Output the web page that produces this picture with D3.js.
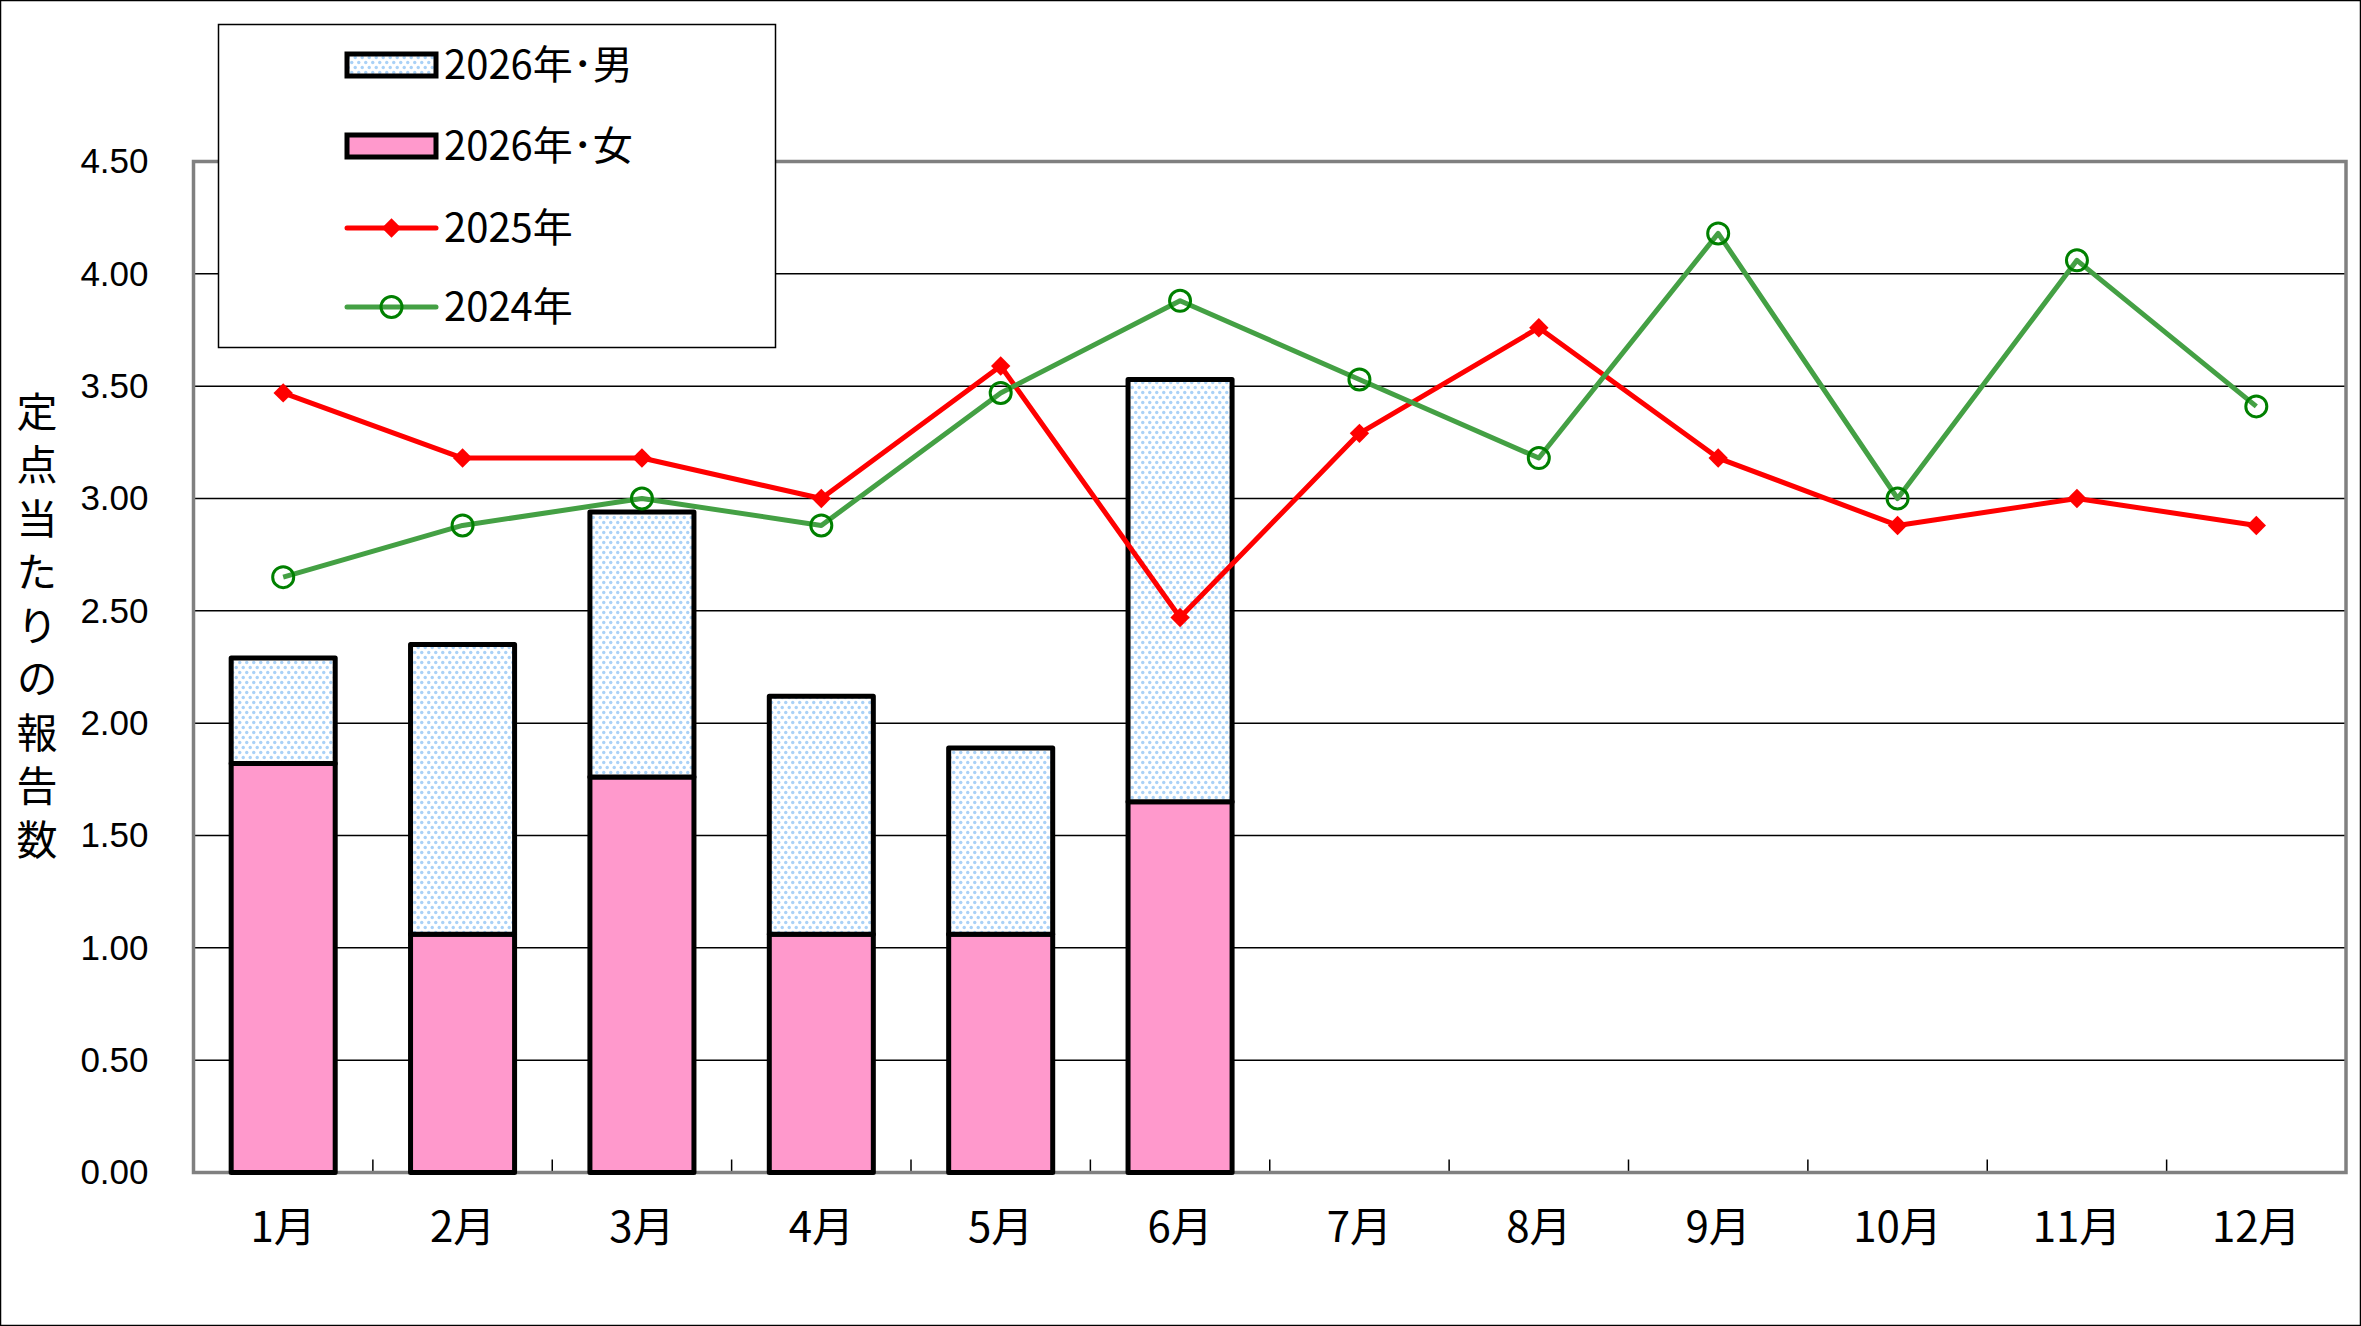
<!DOCTYPE html>
<html>
<head>
<meta charset="utf-8">
<script src="https://cdn.jsdelivr.net/npm/d3@7"></script>
<style>
html,body{margin:0;padding:0;background:#fff;}
svg{display:block;}
</style>
</head>
<body>
<svg id="chart" width="2361" height="1326"></svg>
<script>
const months = ["1月","2月","3月","4月","5月","6月","7月","8月","9月","10月","11月","12月"];
const female2026 = [1.82, 1.06, 1.76, 1.06, 1.06, 1.65];
const male2026   = [0.47, 1.29, 1.18, 1.06, 0.83, 1.88];
const y2025 = [3.47, 3.18, 3.18, 3.00, 3.59, 2.47, 3.29, 3.76, 3.18, 2.88, 3.00, 2.88];
const y2024 = [2.65, 2.88, 3.00, 2.88, 3.47, 3.88, 3.53, 3.18, 4.18, 3.00, 4.06, 3.41];
const yTicks = [0, 0.5, 1, 1.5, 2, 2.5, 3, 3.5, 4, 4.5];
const legendLabels = ["2026年･男", "2026年･女", "2025年", "2024年"];
const yTitle = "定点当たりの報告数";

const svg = d3.select("#chart");
const W = 2361, H = 1326;
const plot = {left: 193.5, right: 2346, top: 161.5, bottom: 1172.5};
const JP = "'Noto Sans CJK JP', 'Noto Sans', sans-serif";

const defs = svg.append("defs");
const pat = defs.append("pattern").attr("id","dots").attr("patternUnits","userSpaceOnUse")
  .attr("width",7).attr("height",10);
pat.append("rect").attr("width",7).attr("height",10).attr("fill","#ffffff");
pat.append("circle").attr("cx",1.75).attr("cy",2.5).attr("r",1.7).attr("fill","#a9d1f7");
pat.append("circle").attr("cx",5.25).attr("cy",7.5).attr("r",1.7).attr("fill","#a9d1f7");

svg.append("rect").attr("x",0.5).attr("y",0.5).attr("width",W-1).attr("height",H-1)
  .attr("fill","#fff").attr("stroke","#000").attr("stroke-width",1.5);

const x = d3.scaleBand().domain(months).range([plot.left, plot.right]).padding(0);
const y = d3.scaleLinear().domain([0, 4.5]).range([plot.bottom, plot.top]);

// gridlines
svg.append("g").selectAll("line").data(yTicks.filter(t => t > 0 && t < 4.5)).join("line")
  .attr("x1", plot.left).attr("x2", plot.right)
  .attr("y1", d => y(d)).attr("y2", d => y(d))
  .attr("stroke","#000").attr("stroke-width",1.5);

// x tick marks (inside)
svg.append("g").selectAll("line").data(months.slice(1)).join("line")
  .attr("x1", d => x(d)).attr("x2", d => x(d))
  .attr("y1", plot.bottom).attr("y2", plot.bottom - 13)
  .attr("stroke","#000").attr("stroke-width",1.5);

// y axis labels
const yAxis = d3.axisLeft(y).tickValues(yTicks).tickFormat(d3.format(".2f")).tickSize(0).tickPadding(45);
const ya = svg.append("g").attr("transform",`translate(${plot.left},0)`).call(yAxis);
ya.select(".domain").remove();
ya.selectAll("text").attr("font-family","'Liberation Sans', Arial, sans-serif")
  .attr("font-size",35).attr("fill","#000");

// x axis labels
const xAxis = d3.axisBottom(x).tickSize(0).tickPadding(40);
const xa = svg.append("g").attr("transform",`translate(0,${plot.bottom})`).call(xAxis);
xa.select(".domain").remove();
xa.selectAll("text").attr("font-family",JP).attr("font-size",42).attr("fill","#000");

// plot frame
svg.append("rect").attr("x",plot.left).attr("y",plot.top)
  .attr("width",plot.right-plot.left).attr("height",plot.bottom-plot.top)
  .attr("fill","none").attr("stroke","#808080").attr("stroke-width",3.5);

// y title (vertical writing, single text)
svg.append("text")
  .attr("x", 37).attr("y", 390.5)
  .attr("writing-mode","vertical-rl")
  .style("writing-mode","vertical-rl")
  .style("text-orientation","upright")
  .attr("letter-spacing", 12.5)
  .attr("font-family",JP).attr("font-size",41).attr("fill","#000")
  .text(yTitle);

// bars
const bw = x.bandwidth()*0.58;
const bars = svg.append("g");
bars.selectAll("rect.f").data(female2026).join("rect").attr("class","f")
  .attr("x",(d,i)=> x(months[i]) + (x.bandwidth()-bw)/2).attr("width",bw)
  .attr("y", d => y(d)).attr("height", d => y(0)-y(d))
  .attr("fill","#ff99cc").attr("stroke","#000").attr("stroke-width",5).attr("stroke-linejoin","round");
bars.selectAll("rect.m").data(male2026).join("rect").attr("class","m")
  .attr("x",(d,i)=> x(months[i]) + (x.bandwidth()-bw)/2).attr("width",bw)
  .attr("y", (d,i) => y(d + female2026[i])).attr("height", (d,i) => y(female2026[i]) - y(d + female2026[i]))
  .attr("fill","url(#dots)").attr("stroke","#000").attr("stroke-width",5).attr("stroke-linejoin","round");

const cx = (i) => x(months[i]) + x.bandwidth()/2;
const line = d3.line().x((d,i)=>cx(i)).y(d=>y(d));

// 2025 red
svg.append("path").datum(y2025).attr("d",line).attr("fill","none")
  .attr("stroke","#ff0000").attr("stroke-width",5).attr("stroke-linejoin","round");
const diamond = d3.symbol().type(d3.symbolDiamond2).size(240);
svg.append("g").selectAll("path").data(y2025).join("path")
  .attr("transform",(d,i)=>`translate(${cx(i)},${y(d)})`)
  .attr("d", diamond).attr("fill","#ff0000");

// 2024 green
svg.append("path").datum(y2024).attr("d",line).attr("fill","none")
  .attr("stroke","#44a044").attr("stroke-width",5).attr("stroke-linejoin","round");
svg.append("g").selectAll("circle").data(y2024).join("circle")
  .attr("cx",(d,i)=>cx(i)).attr("cy",d=>y(d)).attr("r",10.5)
  .attr("fill","none").attr("stroke","#008000").attr("stroke-width",3);

// legend
const lg = svg.append("g");
lg.append("rect").attr("x",218.5).attr("y",24.5).attr("width",557).attr("height",323)
  .attr("fill","#fff").attr("stroke","#000").attr("stroke-width",1.5);
const rowsY = [65, 146, 228, 307];
const sx0 = 347, sx1 = 436;
lg.append("rect").attr("x",sx0).attr("y",rowsY[0]-11).attr("width",sx1-sx0).attr("height",22)
  .attr("fill","url(#dots)").attr("stroke","#000").attr("stroke-width",5);
lg.append("rect").attr("x",sx0).attr("y",rowsY[1]-11).attr("width",sx1-sx0).attr("height",22)
  .attr("fill","#ff99cc").attr("stroke","#000").attr("stroke-width",5);
lg.append("line").attr("x1",sx0).attr("x2",sx1).attr("y1",rowsY[2]).attr("y2",rowsY[2])
  .attr("stroke","#ff0000").attr("stroke-width",5).attr("stroke-linecap","round");
lg.append("path").attr("transform",`translate(${(sx0+sx1)/2},${rowsY[2]})`).attr("d",diamond).attr("fill","#ff0000");
lg.append("line").attr("x1",sx0).attr("x2",sx1).attr("y1",rowsY[3]).attr("y2",rowsY[3])
  .attr("stroke","#44a044").attr("stroke-width",5).attr("stroke-linecap","round");
lg.append("circle").attr("cx",(sx0+sx1)/2).attr("cy",rowsY[3]).attr("r",10.5)
  .attr("fill","none").attr("stroke","#008000").attr("stroke-width",3);
lg.selectAll("text").data(legendLabels).join("text")
  .attr("x",444).attr("y",(d,i)=>rowsY[i]-3).attr("dominant-baseline","central")
  .attr("font-family",JP).attr("font-size",40).attr("fill","#000").text(d=>d);
</script>
</body>
</html>
